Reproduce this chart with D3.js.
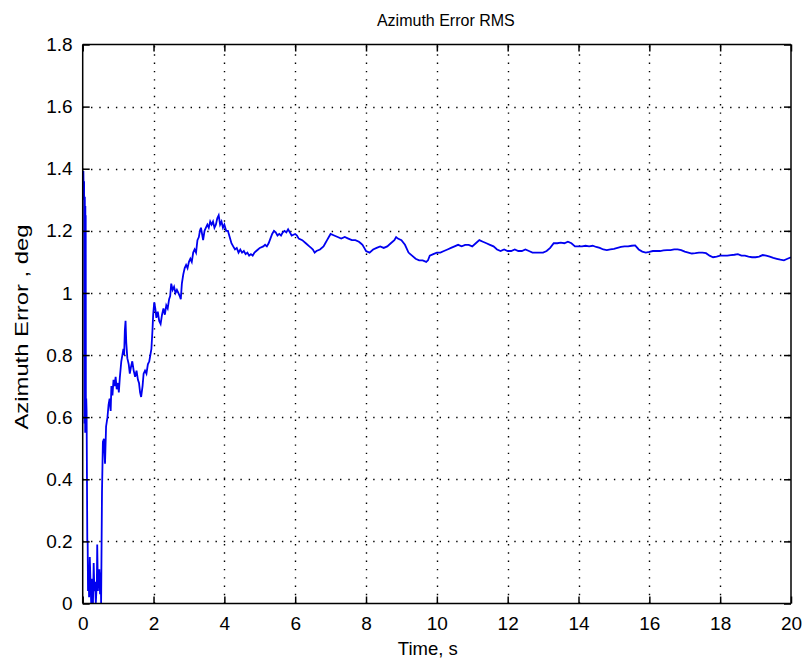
<!DOCTYPE html>
<html><head><meta charset="utf-8">
<script src="https://cdn.jsdelivr.net/npm/d3@7"></script>
<style>
html,body{margin:0;padding:0;background:#fff;}
svg{display:block;}
text{font-family:"Liberation Sans",Arial,sans-serif;fill:#000;}
</style></head>
<body><svg id="c" width="806" height="666"></svg>
<script>
const title = "Azimuth Error RMS";
const xLabel = "Time, s";
const yLabel = "Azimuth Error , deg";
const xTicks = [0,2,4,6,8,10,12,14,16,18,20];
const yTicks = [0,0.2,0.4,0.6,0.8,1,1.2,1.4,1.6,1.8];
const yTickLabels = ["0","0.2","0.4","0.6","0.8","1","1.2","1.4","1.6","1.8"];
const time = [0.00,0.02,0.03,0.04,0.05,0.06,0.07,0.075,0.08,0.085,0.09,0.10,0.11,0.13,0.14,0.15,0.17,0.18,0.20,0.22,0.24,0.26,0.27,0.29,0.31,0.33,0.35,0.37,0.40,0.41,0.43,0.45,0.47,0.49,0.51,0.52,0.545,0.57,0.60,0.63,0.66,0.70,0.73,0.76,0.79,0.81,0.84,0.87,0.90,0.93,0.96,1.00,1.02,1.05,1.09,1.12,1.15,1.17,1.19,1.21,1.23,1.26,1.30,1.33,1.36,1.40,1.44,1.48,1.52,1.56,1.59,1.62,1.65,1.69,1.72,1.76,1.80,1.84,1.88,1.91,1.94,1.97,1.99,2.02,2.05,2.08,2.12,2.16,2.20,2.24,2.28,2.32,2.36,2.40,2.44,2.47,2.50,2.54,2.58,2.62,2.66,2.70,2.74,2.77,2.80,2.84,2.88,2.92,2.96,3.00,3.04,3.08,3.12,3.16,3.20,3.24,3.28,3.31,3.34,3.37,3.40,3.44,3.48,3.52,3.56,3.60,3.64,3.68,3.72,3.76,3.80,3.84,3.88,3.92,3.96,4.00,4.05,4.10,4.15,4.20,4.25,4.30,4.35,4.40,4.45,4.50,4.55,4.60,4.65,4.70,4.75,4.80,4.85,4.90,4.95,5.00,5.10,5.15,5.20,5.25,5.30,5.35,5.40,5.45,5.50,5.55,5.60,5.65,5.70,5.75,5.80,5.85,5.90,6.00,6.05,6.10,6.20,6.30,6.40,6.45,6.50,6.55,6.60,6.70,6.80,6.85,6.90,6.95,7.00,7.10,7.20,7.30,7.40,7.50,7.60,7.70,7.80,7.85,7.90,7.95,8.00,8.10,8.20,8.30,8.40,8.50,8.60,8.70,8.80,8.85,8.90,9.00,9.10,9.20,9.30,9.40,9.50,9.60,9.70,9.75,9.80,9.90,10.00,10.10,10.20,10.30,10.40,10.50,10.60,10.70,10.80,10.90,11.00,11.10,11.20,11.30,11.40,11.50,11.60,11.70,11.80,11.90,12.00,12.10,12.20,12.30,12.40,12.50,12.60,12.70,12.80,12.90,13.00,13.10,13.20,13.30,13.40,13.50,13.60,13.70,13.80,13.90,14.00,14.10,14.20,14.30,14.40,14.50,14.60,14.70,14.80,14.90,15.00,15.10,15.20,15.30,15.40,15.50,15.60,15.70,15.80,15.90,16.00,16.10,16.20,16.30,16.40,16.50,16.60,16.70,16.80,16.90,17.00,17.10,17.20,17.30,17.40,17.50,17.60,17.70,17.80,17.90,18.00,18.10,18.20,18.30,18.40,18.50,18.60,18.70,18.80,18.90,19.00,19.10,19.20,19.30,19.40,19.50,19.60,19.70,19.80,19.90,20.00];
const rms = [1.39,1.39,1.30,1.36,0.58,1.31,0.55,1.28,0.60,1.25,0.56,0.66,0.62,0.20,0.20,0.04,0.10,0.02,0.15,0.07,0.00,0.08,0.04,0.00,0.13,0.04,0.07,0.00,0.07,0.19,0.04,0.10,0.11,0.03,0.10,0.00,0.36,0.52,0.53,0.45,0.57,0.60,0.64,0.66,0.62,0.70,0.67,0.72,0.70,0.73,0.69,0.71,0.68,0.73,0.78,0.80,0.82,0.80,0.88,0.91,0.84,0.79,0.77,0.74,0.76,0.78,0.75,0.73,0.75,0.72,0.71,0.68,0.665,0.70,0.74,0.75,0.74,0.77,0.78,0.80,0.82,0.88,0.93,0.97,0.95,0.92,0.94,0.91,0.90,0.93,0.95,0.93,0.96,0.95,0.98,0.99,1.03,1.01,1.02,1.00,1.01,1.00,0.99,0.98,1.03,1.06,1.08,1.09,1.08,1.10,1.11,1.10,1.13,1.14,1.13,1.17,1.18,1.20,1.21,1.19,1.17,1.20,1.21,1.22,1.21,1.23,1.22,1.23,1.21,1.22,1.24,1.25,1.22,1.23,1.21,1.22,1.20,1.20,1.18,1.16,1.15,1.14,1.145,1.13,1.14,1.13,1.135,1.125,1.13,1.12,1.125,1.12,1.13,1.135,1.14,1.145,1.15,1.155,1.15,1.16,1.175,1.19,1.20,1.195,1.185,1.19,1.185,1.195,1.20,1.195,1.205,1.195,1.185,1.19,1.185,1.175,1.17,1.16,1.15,1.145,1.14,1.13,1.135,1.14,1.15,1.16,1.17,1.18,1.19,1.185,1.18,1.175,1.18,1.175,1.17,1.17,1.165,1.16,1.155,1.145,1.135,1.13,1.14,1.145,1.15,1.145,1.15,1.16,1.17,1.18,1.175,1.17,1.155,1.13,1.12,1.11,1.105,1.105,1.10,1.105,1.12,1.125,1.13,1.13,1.135,1.14,1.145,1.15,1.155,1.15,1.155,1.155,1.15,1.16,1.17,1.165,1.16,1.155,1.15,1.14,1.135,1.14,1.135,1.135,1.14,1.135,1.135,1.14,1.135,1.13,1.13,1.13,1.13,1.135,1.145,1.16,1.16,1.162,1.16,1.165,1.16,1.15,1.15,1.15,1.152,1.15,1.152,1.148,1.145,1.14,1.138,1.14,1.142,1.145,1.148,1.15,1.15,1.152,1.153,1.14,1.133,1.13,1.132,1.135,1.135,1.135,1.137,1.138,1.138,1.14,1.14,1.138,1.133,1.13,1.127,1.128,1.13,1.13,1.128,1.12,1.115,1.117,1.12,1.12,1.12,1.122,1.123,1.125,1.12,1.12,1.117,1.115,1.115,1.117,1.122,1.12,1.117,1.113,1.11,1.107,1.105,1.11,1.115,1.115];

const svg = d3.select("#c");
const L = 82.7, R = 791, T = 44.5, B = 603.5;
const x = d3.scaleLinear().domain([0,20]).range([L,R]);
const y = d3.scaleLinear().domain([0,1.8]).range([B,T]);

svg.append("rect").attr("width",806).attr("height",666).attr("fill","#fff");

// grid
const grid = svg.append("g").attr("stroke","#000").attr("stroke-width",1.4).attr("stroke-dasharray","1.4,6.9");
grid.selectAll("line.gx").data(xTicks.slice(1,-1)).join("line")
  .attr("x1",d=>Math.round(x(d))+0.5).attr("x2",d=>Math.round(x(d))+0.5)
  .attr("y1",B).attr("y2",T);
grid.selectAll("line.gy").data(yTicks.slice(1,-1)).join("line")
  .attr("y1",d=>Math.round(y(d))+0.5).attr("y2",d=>Math.round(y(d))+0.5)
  .attr("x1",L).attr("x2",R);

// clip
svg.append("clipPath").attr("id","clip").append("rect")
  .attr("x",L).attr("y",T).attr("width",R-L).attr("height",B-T);

const pts = time.map((t,i)=>[t,rms[i]]);
svg.append("path").datum(pts)
  .attr("clip-path","url(#clip)")
  .attr("fill","none").attr("stroke","#0000f0").attr("stroke-width",1.8)
  .attr("stroke-linejoin","miter")
  .attr("d",d3.line().x(d=>x(d[0])).y(d=>y(d[1])));

// axes (MATLAB-like, ticks inside, box)
const tl = 7;
const axB = svg.append("g").attr("transform",`translate(0,${B})`)
  .call(d3.axisBottom(x).tickValues(xTicks).tickSize(-tl).tickPadding(13).tickFormat(d3.format("d")));
const axT = svg.append("g").attr("transform",`translate(0,${T})`)
  .call(d3.axisTop(x).tickValues(xTicks).tickSize(-tl).tickFormat(""));
const axL = svg.append("g").attr("transform",`translate(${L},0)`)
  .call(d3.axisLeft(y).tickValues(yTicks).tickSize(-tl).tickPadding(10).tickFormat((d,i)=>yTickLabels[i]));
const axR = svg.append("g").attr("transform",`translate(${R},0)`)
  .call(d3.axisRight(y).tickValues(yTicks).tickSize(-tl).tickFormat(""));
[axB,axT,axL,axR].forEach(a=>{
  a.select(".domain").attr("stroke","#000").attr("stroke-width",1.5);
  a.selectAll(".tick line").attr("stroke","#000").attr("stroke-width",1.5);
  a.selectAll(".tick text").attr("font-family","'Liberation Sans',Arial,sans-serif").attr("font-size",19).attr("fill","#000");
});
axL.selectAll(".domain").attr("d",`M0,${B}V${T}`);
axR.selectAll(".domain").attr("d",`M0,${B}V${T}`);
axB.selectAll(".domain").attr("d",`M${L},0H${R}`);
axT.selectAll(".domain").attr("d",`M${L},0H${R}`);

// titles
svg.append("text").attr("x",(L+R)/2+9).attr("y",26).attr("text-anchor","middle")
  .attr("font-size",16).text(title);
svg.append("text").attr("x",(L+R)/2-9).attr("y",655).attr("text-anchor","middle")
  .attr("font-size",18.5).text(xLabel);
svg.append("text").attr("transform",`translate(28,${(T+B)/2+3}) rotate(-90)`).attr("text-anchor","middle")
  .attr("font-size",19).attr("textLength",205).attr("lengthAdjust","spacingAndGlyphs").text(yLabel);
</script></body></html>
